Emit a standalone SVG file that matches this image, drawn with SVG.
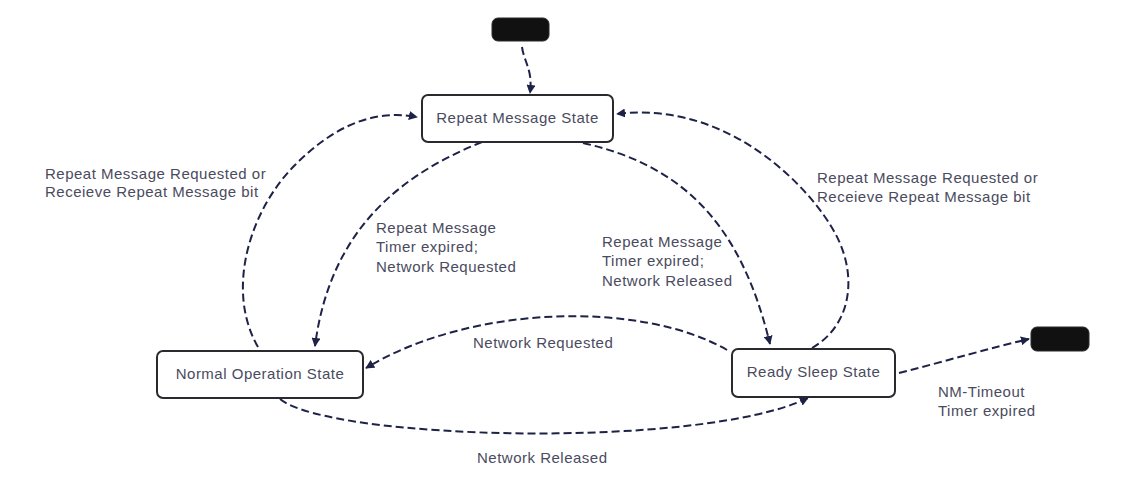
<svg xmlns="http://www.w3.org/2000/svg" width="1132" height="489" viewBox="0 0 1132 489">
<style>
.state{fill:#ffffff;stroke:#2a2a2e;stroke-width:2}
.term{fill:#111111;stroke:#2a2a2e;stroke-width:1}
.lbl{font-family:"Liberation Sans",Arial,sans-serif;font-size:15px;letter-spacing:0.5px;fill:#4a4b5e}
.edge{fill:none;stroke:#1e2247;stroke-width:2;stroke-dasharray:8 4}
</style>
<defs>
<marker id="arr" viewBox="0 0 10 10" refX="9" refY="5" markerWidth="9" markerHeight="9" markerUnits="userSpaceOnUse" orient="auto">
<path d="M0,0 L10,5 L0,10 Z" fill="#1e2247"/>
</marker>
</defs>
<rect width="1132" height="489" fill="#ffffff"/>
<g id="connectors">
<path class="edge" marker-end="url(#arr)" d="M522,47 C524,62 533,70 530,93"/>
<path class="edge" marker-end="url(#arr)" d="M258,347 C225,290 250,210 295,165 C330,130 370,108 417,117"/>
<path class="edge" marker-end="url(#arr)" d="M482,142 C400,175 330,230 315,346"/>
<path class="edge" marker-end="url(#arr)" d="M280,399 C330,440 700,450 808,398"/>
<path class="edge" marker-end="url(#arr)" d="M727,350 C640,300 470,305 366,368"/>
<path class="edge" marker-end="url(#arr)" d="M583,143 C680,165 740,220 770,344"/>
<path class="edge" marker-end="url(#arr)" d="M812,348 C852,325 858,275 835,233 C812,190 730,100 617,114"/>
<path class="edge" marker-end="url(#arr)" d="M899,373 C950,360 990,348 1029,339"/>
</g>
<g id="start"><rect class="term" x="492" y="18" width="57" height="23" rx="6"/></g>
<g id="end"><rect class="term" x="1031" y="327" width="58" height="24" rx="6"/></g>
<g id="repeat-message-state">
<rect class="state" x="422" y="95" width="191" height="47" rx="6"/>
<text class="lbl" x="517.5" y="123" text-anchor="middle">Repeat Message State</text>
</g>
<g id="normal-operation-state">
<rect class="state" x="157" y="351" width="206" height="47" rx="6"/>
<text class="lbl" x="260" y="379" text-anchor="middle">Normal Operation State</text>
</g>
<g id="ready-sleep-state">
<rect class="state" x="732" y="349" width="163" height="48" rx="6"/>
<text class="lbl" x="813.5" y="377" text-anchor="middle">Ready Sleep State</text>
</g>
<g id="labels">
<text class="lbl" x="45" y="179">Repeat Message Requested or</text>
<text class="lbl" x="45" y="197">Receieve Repeat Message bit</text>
<text class="lbl" x="817" y="183">Repeat Message Requested or</text>
<text class="lbl" x="817" y="202">Receieve Repeat Message bit</text>
<text class="lbl" x="376" y="233">Repeat Message</text>
<text class="lbl" x="376" y="252">Timer expired;</text>
<text class="lbl" x="376" y="272">Network Requested</text>
<text class="lbl" x="602" y="247">Repeat Message</text>
<text class="lbl" x="602" y="266">Timer expired;</text>
<text class="lbl" x="602" y="286">Network Released</text>
<text class="lbl" x="473" y="348">Network Requested</text>
<text class="lbl" x="477" y="463">Network Released</text>
<text class="lbl" x="938" y="397">NM-Timeout</text>
<text class="lbl" x="938" y="416">Timer expired</text>
</g>
</svg>
